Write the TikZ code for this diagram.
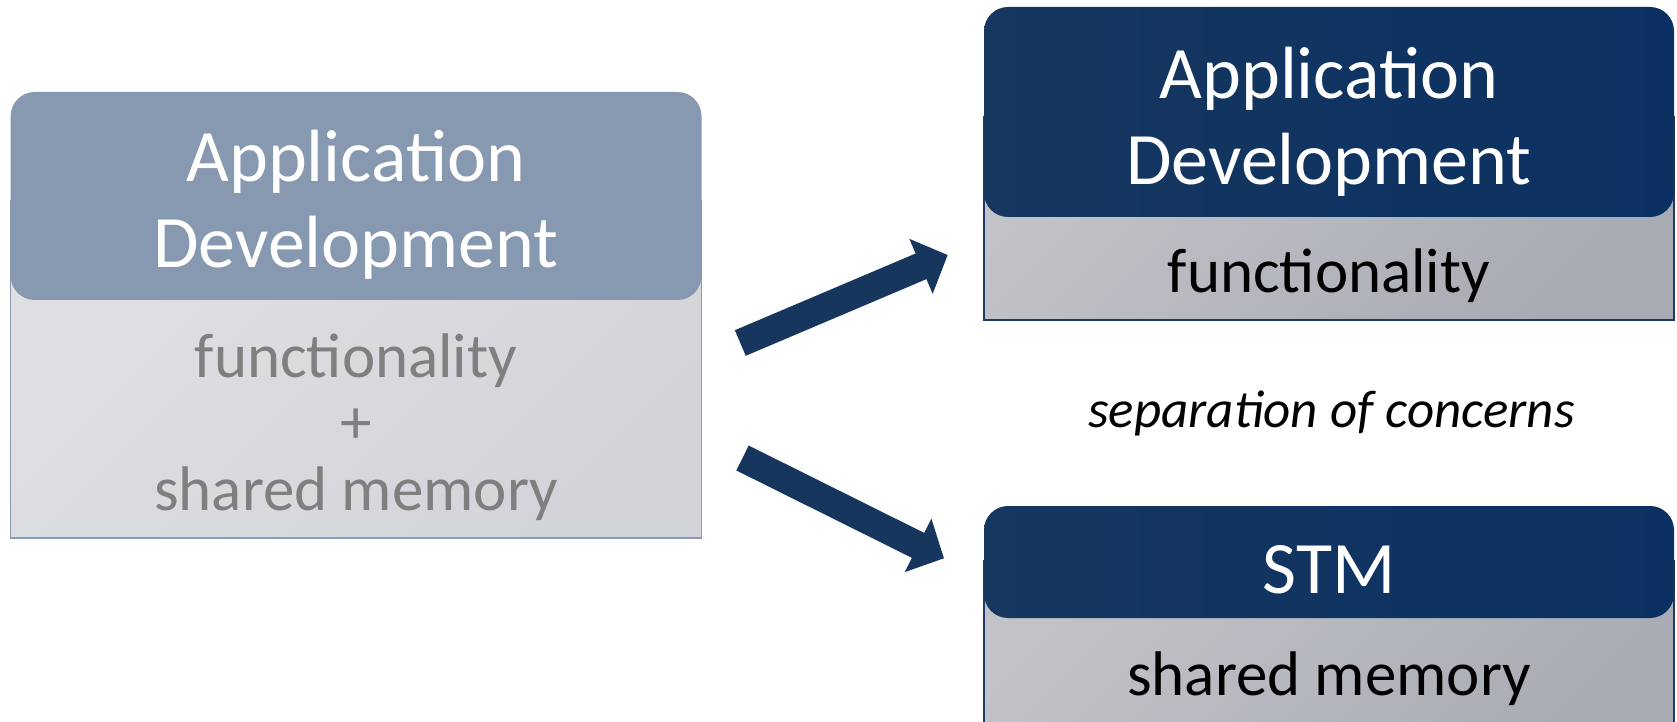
\documentclass[tikz,border=0pt]{standalone}
\usepackage{fontspec}
\setmainfont{Carlito}
\usetikzlibrary{shapes,arrows.meta}
\usetikzlibrary{positioning}

\definecolor{paleblue}{HTML}{8799B0}
\definecolor{palebody}{HTML}{DFE0E3}
\definecolor{palebodydark}{HTML}{D2D4D9}
\definecolor{paleline}{HTML}{8A9BB3}
\definecolor{navy}{HTML}{16375F}
\definecolor{navyright}{HTML}{0B3162}
\definecolor{greybody}{HTML}{C2C3C8}
\definecolor{greybodydark}{HTML}{A8ABB4}
\definecolor{navyline}{HTML}{1D3A60}
\definecolor{arrowfill}{HTML}{17365D}
\definecolor{faded}{HTML}{7F7F7F}

\begin{document}
\begin{tikzpicture}[x=1pt,y=1pt,
    every node/.style={inner sep=0pt, outer sep=0pt},
    oldhead/.style={rounded corners=24pt, fill=paleblue, anchor=north west},
    oldbody/.style={draw=paleline, line width=1.5pt, top color=palebody, bottom color=palebodydark, shading angle=45, anchor=south west},
    newhead/.style={rounded corners=24pt, left color=navy, right color=navyright, anchor=north west},
    newbody/.style={draw=navyline, line width=1.8pt, top color=greybody, bottom color=greybodydark, shading angle=45, anchor=south west},
    headtext/.style={font=\fontsize{74}{86}\selectfont, align=center, anchor=base, text=white},
    bodytext/.style={font=\fontsize{63}{66.5}\selectfont, align=center, anchor=base},
    fatarrow/.style={draw=arrowfill, line width=27.8pt, -{Triangle[length=29pt,width=58pt]}}]
    \useasboundingbox (0,0) rectangle (1677,721);

    % before: one box does everything
    \node[oldbody, minimum width=690.8, minimum height=337] (oldmem) at (10.7,183) {};
    \node[oldhead, minimum width=690.8, minimum height=208] (oldapp) at (10.7,629) {};
    \node[headtext] (oldapptext) at (356,453) {Application\\Development};
    \node[bodytext, text=faded] (oldmemtext) at (356,211) {functionality\\+\\shared memory};

    % after: two boxes
    \node[newbody, minimum width=690, minimum height=203] (funcbox) at (984,401) {};
    \node[newhead, minimum width=690, minimum height=210] (apphead) at (984,714) {};
    \node[headtext] (apptext) at (1329,536) {Application\\Development};
    \node[bodytext] (functext) at (1329,428) {functionality};

    \node[newbody, minimum width=690, minimum height=200] (memorybox) at (984,-40) {};
    \node[newhead, minimum width=690, minimum height=112] (stmhead) at (984,215) {};
    \node[headtext] (stmtext) at (1329,128) {STM};
    \node[bodytext] (memorytext) at (1329,26) {shared memory};

    \node[font=\fontsize{53}{60}\selectfont\itshape, anchor=base] (concerns) at (1331.5,294) {separation of concerns};

    \coordinate (uptail) at (740.3,378);
    \coordinate (uptip) at (947.7,466);
    \coordinate (downtail) at (742.5,263);
    \coordinate (downtip) at (944,162.7);
    \draw[fatarrow] (uptail) -- (uptip);
    \draw[fatarrow] (downtail) -- (downtip);
\end{tikzpicture}
\end{document}
